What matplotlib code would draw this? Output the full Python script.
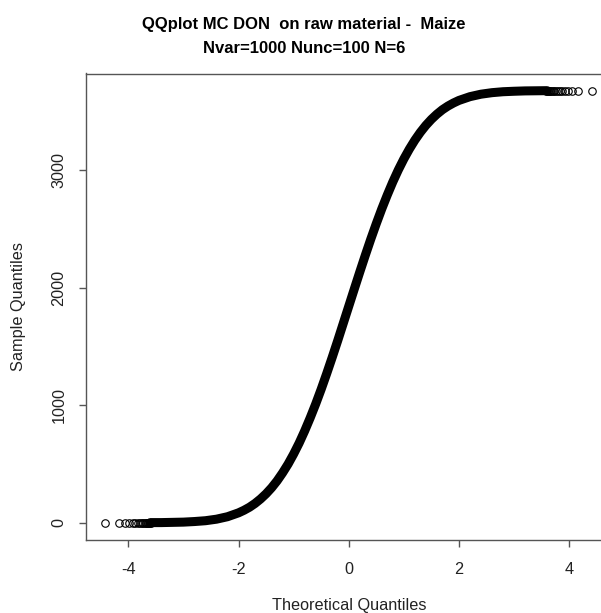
import matplotlib
matplotlib.use("Agg")
import matplotlib.pyplot as plt

plt.rcParams['font.family'] = ['Liberation Sans', 'DejaVu Sans']

TITLE_1 = "QQplot MC DON  on raw material -  Maize"
TITLE_2 = "Nvar=1000 Nunc=100 N=6"

# dense part of the qq curve (theoretical quantile, sample quantile)
q_curve = [-3.6, -3.4, -3.2, -3.0, -2.8, -2.6, -2.4, -2.2, -2.0, -1.9,
           -1.8, -1.7, -1.6, -1.5, -1.4, -1.3, -1.2, -1.1, -1.0, -0.9,
           -0.8, -0.7, -0.6, -0.5, -0.4, -0.3, -0.2, -0.1, 0.0, 0.1,
           0.2, 0.3, 0.4, 0.5, 0.6, 0.7, 0.8, 0.9, 1.0, 1.1,
           1.2, 1.3, 1.4, 1.5, 1.6, 1.7, 1.8, 1.9, 2.0, 2.2,
           2.4, 2.6, 2.8, 3.0, 3.2, 3.4, 3.6]
v_curve = [1, 1, 3, 5, 10, 17, 30, 51, 84, 106,
           132, 164, 202, 246, 297, 356, 424, 499, 584, 677,
           780, 891, 1009, 1135, 1268, 1406, 1548, 1694, 1840, 1986,
           2131, 2273, 2411, 2543, 2669, 2787, 2898, 3000, 3093, 3177,
           3253, 3320, 3379, 3430, 3474, 3512, 3543, 3569, 3591, 3623,
           3644, 3657, 3665, 3669, 3672, 3673, 3674]

# single circles that separate out in both tails
q_low_tail = [-4.42, -4.17, -4.06, -3.98, -3.92, -3.87, -3.83, -3.79, -3.76,
              -3.73, -3.70, -3.68, -3.66, -3.64, -3.62, -3.60, -3.58]
v_low_tail = [0, 0, 0, 0, 0, 0, 0, 0, 0, 0, 0, 0, 0, 1, 1, 1, 1]
q_high_tail = [4.42, 4.17, 4.06, 3.98, 3.92, 3.87, 3.83, 3.79, 3.76,
               3.73, 3.70, 3.68, 3.66, 3.64, 3.62, 3.60, 3.58]
v_high_tail = [3675, 3675, 3675, 3675, 3675, 3675, 3675, 3675, 3675,
               3675, 3675, 3675, 3674, 3674, 3674, 3674, 3674]

x_ticks = [-4, -2, 0, 2, 4]
y_ticks = [0, 1000, 2000, 3000]

fig = plt.figure(figsize=(6.01, 6.13), dpi=100)
ax = fig.add_axes([86 / 601, 73 / 613, 525.5 / 601, 466.5 / 613])

ax.plot(q_curve, v_curve, color='black', lw=6.5, solid_capstyle='round')
for qs, vs in [(q_low_tail, v_low_tail), (q_high_tail, v_high_tail)]:
    ax.plot(qs, vs, 'o', ms=5.4, mfc='none', mec='black', mew=0.8)

ax.set_xlim(-4.768, 4.769)
ax.set_ylim(-147, 3820)

for s in ['left', 'bottom', 'top', 'right']:
    ax.spines[s].set_color('#555555')
    ax.spines[s].set_linewidth(1.0)

ax.set_xticks(x_ticks)
ax.set_yticks(y_ticks)
ax.set_xticklabels([str(t) for t in x_ticks])
ax.set_yticklabels([str(t) for t in y_ticks], rotation=90, va='center')
ax.tick_params(axis='both', length=5, width=1, color='#555555', labelsize=11.7,
               labelcolor='#222222')
ax.tick_params(axis='x', pad=11)
ax.tick_params(axis='y', pad=9)

ax.set_xlabel("Theoretical Quantiles", fontsize=11.7, color='#222222')
ax.set_ylabel("Sample Quantiles", fontsize=11.7, color='#222222')
ax.xaxis.set_label_coords(0.5, -0.124)
ax.yaxis.set_label_coords(-0.115, 0.5)

fig.text(304 / 601, 1 - 24 / 613, TITLE_1, ha='center', va='center',
         fontsize=12, fontweight='bold')
fig.text(304 / 601, 1 - 48.5 / 613, TITLE_2, ha='center', va='center',
         fontsize=12, fontweight='bold')

fig.savefig("out.png", dpi=100)
